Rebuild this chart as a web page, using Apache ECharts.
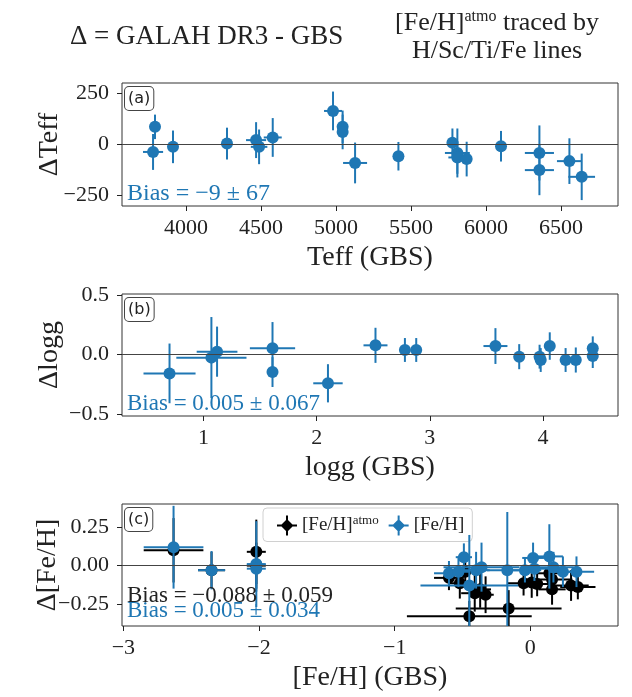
<!DOCTYPE html>
<html><head><meta charset="utf-8">
<script src="https://cdn.jsdelivr.net/npm/echarts@6/dist/echarts.min.js"></script>
<style>html,body{margin:0;padding:0;background:#fff}#c{width:632px;height:697px}</style>
</head><body><div id="c"></div>
<script>
// ---- Panel (a): Teff ----
const teffX   = [3793, 3780, 3913, 4273, 4467, 4487, 4578, 4980, 5044, 5044, 5127, 5416, 5776, 5809, 5809, 5871, 6100, 6356, 6356, 6556, 6638];
const teffD   = [85, -38, -13, 3, 20, -13, 33, 163, 85, 60, -92, -59, 7, -43, -65, -73, -10, -43, -127, -83, -160];
const teffXe  = [20, 67, 15, 15, 67, 55, 60, 60, 20, 20, 80, 15, 20, 83, 60, 20, 15, 97, 97, 83, 89];
const teffDe  = [60, 88, 80, 78, 88, 85, 95, 95, 80, 85, 100, 70, 70, 120, 80, 85, 75, 135, 123, 112, 114];
const teffXTicks = [4000, 4500, 5000, 5500, 6000, 6500];
const teffYTicks = [-250, 0, 250];

// ---- Panel (b): logg ----
const loggX  = [0.70, 1.07, 1.12, 1.61, 1.61, 2.10, 2.52, 2.78, 2.88, 3.58, 3.79, 3.97, 3.98, 4.06, 4.20, 4.29, 4.44, 4.44];
const loggD  = [-0.157, -0.025, 0.025, 0.053, -0.146, -0.24, 0.078, 0.039, 0.039, 0.072, -0.017, -0.017, -0.045, 0.072, -0.045, -0.045, 0.053, -0.012];
const loggXe = [0.23, 0.31, 0.18, 0.20, 0.03, 0.13, 0.106, 0.02, 0.02, 0.106, 0.02, 0.02, 0.02, 0.02, 0.02, 0.02, 0.02, 0.02];
const loggDe = [0.25, 0.34, 0.21, 0.22, 0.125, 0.16, 0.147, 0.10, 0.10, 0.15, 0.105, 0.10, 0.10, 0.115, 0.10, 0.105, 0.10, 0.10];
const loggXTicks = [1, 2, 3, 4];
const loggYTicks = [-0.5, 0.0, 0.5];

// ---- Panel (c): [Fe/H] ----
const fehAtmoX  = [-2.63, -2.35, -2.02, -2.02, -0.60, -0.52, -0.48, -0.45, -0.41, -0.37, -0.33, -0.16, -0.05, 0.01, 0.05, 0.14, 0.16, 0.16, 0.30, 0.35];
const fehAtmoD  = [0.10, -0.03, 0.09, 0.00, -0.08, -0.115, -0.04, -0.33, -0.18, -0.155, -0.19, -0.28, -0.115, -0.11, -0.12, -0.05, -0.09, -0.155, -0.13, -0.14];
const fehAtmoXe = [0.22, 0.10, 0.07, 0.07, 0.11, 0.08, 0.06, 0.46, 0.10, 0.08, 0.06, 0.39, 0.12, 0.08, 0.10, 0.10, 0.15, 0.10, 0.13, 0.13];
const fehAtmoDe = [0.21, 0.12, 0.21, 0.15, 0.08, 0.10, 0.09, 0.10, 0.12, 0.12, 0.12, 0.12, 0.08, 0.10, 0.08, 0.12, 0.10, 0.10, 0.10, 0.08];

const fehX  = [-2.63, -2.35, -2.02, -2.02, -0.60, -0.53, -0.49, -0.45, -0.40, -0.36, -0.17, -0.04, 0.02, 0.03, 0.14, 0.17, 0.24, 0.34];
const fehD  = [0.12, -0.03, 0.01, -0.02, -0.05, -0.04, 0.055, -0.13, -0.03, -0.01, -0.03, -0.03, 0.05, -0.02, 0.06, -0.01, -0.04, -0.04];
const fehXe = [0.22, 0.10, 0.07, 0.07, 0.11, 0.08, 0.06, 0.36, 0.10, 0.28, 0.15, 0.12, 0.08, 0.10, 0.10, 0.15, 0.10, 0.13];
const fehDe = [0.27, 0.125, 0.28, 0.15, 0.08, 0.10, 0.09, 0.33, 0.12, 0.16, 0.38, 0.08, 0.10, 0.08, 0.21, 0.10, 0.10, 0.10];
const fehXTicks = [-3, -2, -1, 0];
const fehYTicks = [-0.25, 0.00, 0.25];

const BLUE = '#1f77b4', BLACK = '#000000';
const SERIF = '"Liberation Serif", "DejaVu Serif", serif';

function zip(a, b, c, d) { return a.map((v, i) => [v, b[i], c[i], d[i]]); }
function minus(s) { return String(s).replace('-', '\u2212'); }

function errRender(params, api) {
  const cs = params.coordSys;
  const cx = v => Math.max(cs.x, Math.min(cs.x + cs.width, v));
  const cy = v => Math.max(cs.y, Math.min(cs.y + cs.height, v));
  const x = api.value(0), y = api.value(1), xe = api.value(2), ye = api.value(3);
  const c = api.coord([x, y]);
  const l = api.coord([x - xe, y]), r = api.coord([x + xe, y]);
  const t = api.coord([x, y + ye]), b = api.coord([x, y - ye]);
  const color = api.visual('color');
  return {
    type: 'group',
    children: [
      { type: 'line', shape: { x1: cx(l[0]), y1: l[1], x2: cx(r[0]), y2: r[1] }, style: { stroke: color, lineWidth: 2 } },
      { type: 'line', shape: { x1: t[0], y1: cy(t[1]), x2: b[0], y2: cy(b[1]) }, style: { stroke: color, lineWidth: 2 } },
      { type: 'circle', shape: { cx: c[0], cy: c[1], r: 6 }, style: { fill: color } }
    ]
  };
}

function xAxisDef(idx, min, max, ticks, name, fmt) {
  return {
    type: 'value', gridIndex: idx, min: min, max: max, position: 'bottom',
    splitLine: { show: false },
    axisLine: { show: false, onZero: false },
    axisTick: { show: true, customValues: ticks, length: 5, lineStyle: { color: '#222' } },
    axisLabel: { customValues: ticks, margin: 11, color: '#222', fontFamily: SERIF, fontSize: 22, formatter: fmt },
    name: name, nameLocation: 'middle', nameGap: 38, nameMoveOverlap: false,
    nameTextStyle: { fontFamily: SERIF, fontSize: 28, color: '#222' }
  };
}
function yAxisDef(idx, min, max, ticks, name, fmt, gap) {
  return {
    type: 'value', gridIndex: idx, min: min, max: max, position: 'left',
    splitLine: { show: false },
    axisLine: { show: false, onZero: false },
    axisTick: { show: true, customValues: ticks, length: 5, lineStyle: { color: '#222' } },
    axisLabel: { customValues: ticks, margin: 13, color: '#222', fontFamily: SERIF, fontSize: 22, formatter: fmt },
    name: name, nameLocation: 'middle', nameGap: gap, nameRotate: 90, nameMoveOverlap: false,
    nameTextStyle: { fontFamily: SERIF, fontSize: 28, color: '#222' }
  };
}

const gridBase = { left: 122, width: 496, height: 123, show: true, borderColor: '#333', borderWidth: 1, backgroundColor: '#fff' };

const zeroLine = { silent: true, symbol: 'none', label: { show: false }, lineStyle: { color: '#444', width: 1, type: 'solid' }, data: [{ yAxis: 0 }] };

const legendIcon = 'path://M0,9L7,9L7,11L0,11ZM13,9L20,9L20,11L13,11ZM9,0L11,0L11,7L9,7ZM9,13L11,13L11,20L9,20ZM10,3.5L16.5,10L10,16.5L3.5,10Z';

const chart = echarts.init(document.getElementById('c'), null, { renderer: 'canvas' });
chart.setOption({
  animation: false,
  backgroundColor: '#fff',
  grid: [
    Object.assign({}, gridBase, { top: 83 }),
    Object.assign({}, gridBase, { top: 294, height: 122 }),
    Object.assign({}, gridBase, { top: 504, height: 122 })
  ],
  xAxis: [
    xAxisDef(0, 3573, 6880, teffXTicks, 'Teff (GBS)', v => minus(v)),
    xAxisDef(1, 0.28, 4.663, loggXTicks, 'logg (GBS)', v => minus(v)),
    xAxisDef(2, -3.01, 0.646, fehXTicks, '[Fe/H] (GBS)', v => minus(v))
  ],
  yAxis: [
    yAxisDef(0, -303, 300, teffYTicks, '\u0394Teff', v => minus(v), 58),
    yAxisDef(1, -0.514, 0.508, loggYTicks, '\u0394logg', v => minus(v.toFixed(1)), 58),
    yAxisDef(2, -0.394, 0.402, fehYTicks, '\u0394[Fe/H]', v => minus(v.toFixed(2)), 60)
  ],
  legend: {
    show: true,
    left: 263, top: 508, width: 200,
    orient: 'horizontal',
    itemWidth: 20, itemHeight: 20, itemGap: 10,
    padding: [6, 8, 6, 14],
    backgroundColor: 'rgba(255,255,255,0.85)',
    borderColor: '#d0d0d0', borderWidth: 1, borderRadius: 4,
    data: [
      { name: 'atmo', icon: legendIcon },
      { name: 'feh', icon: legendIcon }
    ],
    formatter: function (n) { return n === 'atmo' ? '{m|[Fe/H]}{s|atmo}' : '{m|[Fe/H]}'; },
    textStyle: {
      color: '#222',
      rich: {
        m: { fontFamily: SERIF, fontSize: 19, color: '#222' },
        s: { fontFamily: SERIF, fontSize: 13, color: '#222', verticalAlign: 'top', padding: [0, 0, 10, 0] }
      }
    }
  },
  series: [
    {
      type: 'custom', name: 'teff', xAxisIndex: 0, yAxisIndex: 0, clip: false,
      itemStyle: { color: BLUE }, renderItem: errRender,
      data: zip(teffX, teffD, teffXe, teffDe), z: 3
    },
    { type: 'line', xAxisIndex: 0, yAxisIndex: 0, data: [], markLine: zeroLine, z: 1 },
    {
      type: 'custom', name: 'logg', xAxisIndex: 1, yAxisIndex: 1, clip: false,
      itemStyle: { color: BLUE }, renderItem: errRender,
      data: zip(loggX, loggD, loggXe, loggDe), z: 3
    },
    { type: 'line', xAxisIndex: 1, yAxisIndex: 1, data: [], markLine: zeroLine, z: 1 },
    {
      type: 'custom', name: 'atmo', xAxisIndex: 2, yAxisIndex: 2, clip: false,
      itemStyle: { color: BLACK }, renderItem: errRender,
      data: zip(fehAtmoX, fehAtmoD, fehAtmoXe, fehAtmoDe), z: 3
    },
    {
      type: 'custom', name: 'feh', xAxisIndex: 2, yAxisIndex: 2, clip: false,
      itemStyle: { color: BLUE }, renderItem: errRender,
      data: zip(fehX, fehD, fehXe, fehDe), z: 4
    },
    { type: 'line', xAxisIndex: 2, yAxisIndex: 2, data: [], markLine: zeroLine, z: 1 }
  ],
  graphic: [
    { type: 'text', left: 70, top: 23, z: 10, style: { text: '\u0394 = GALAH DR3 - GBS', font: '27px ' + SERIF, fill: '#222' } },
    { type: 'text', x: 497, y: 9, z: 10, style: {
        align: 'center',
        text: '{m|[Fe/H]}{s|atmo}{m| traced by}\n{m|H/Sc/Ti/Fe lines}',
        rich: {
          m: { font: '26px ' + SERIF, fill: '#222', lineHeight: 28 },
          s: { font: '16px ' + SERIF, fill: '#222', verticalAlign: 'top', lineHeight: 28, padding: [0, 0, 12, 0] }
        } } },
    // panel labels
    { type: 'text', left: 124, top: 86, z: 10, style: { text: '(a)', font: '16px "DejaVu Sans", sans-serif', fill: '#222', padding: [4, 3, 3, 3], borderColor: '#444', borderWidth: 1, borderRadius: 4, backgroundColor: '#fff' } },
    { type: 'text', left: 124, top: 297, z: 10, style: { text: '(b)', font: '16px "DejaVu Sans", sans-serif', fill: '#222', padding: [4, 3, 3, 3], borderColor: '#444', borderWidth: 1, borderRadius: 4, backgroundColor: '#fff' } },
    { type: 'text', left: 124, top: 507, z: 10, style: { text: '(c)', font: '16px "DejaVu Sans", sans-serif', fill: '#222', padding: [4, 3, 3, 3], borderColor: '#444', borderWidth: 1, borderRadius: 4, backgroundColor: '#fff' } },
    // bias texts
    { type: 'text', left: 127, top: 182, z: 10, style: { text: 'Bias = \u22129 \u00b1 67', font: '24px ' + SERIF, fill: BLUE } },
    { type: 'text', left: 127, top: 392, z: 10, style: { text: 'Bias = 0.005 \u00b1 0.067', font: '23px ' + SERIF, fill: BLUE } },
    { type: 'text', left: 127, top: 584, z: 10, style: { text: 'Bias = \u22120.088 \u00b1 0.059', font: '23px ' + SERIF, fill: '#222' } },
    { type: 'text', left: 127, top: 599, z: 10, style: { text: 'Bias = 0.005 \u00b1 0.034', font: '23px ' + SERIF, fill: BLUE } }
  ]
});
</script>
</body></html>
